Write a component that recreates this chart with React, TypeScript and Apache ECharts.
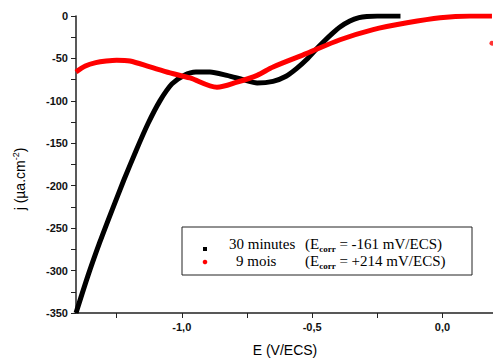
import React, { useEffect, useRef } from "react";
import * as echarts from "echarts";

// 30 minutes curve: [E (V/ECS), j (µA.cm-2)]
const E_30min = [-1.406, -1.36, -1.314, -1.268, -1.222, -1.176, -1.13, -1.084, -1.038, -0.992, -0.946, -0.892, -0.827, -0.765, -0.711, -0.65, -0.6, -0.56, -0.52, -0.49, -0.458, -0.42, -0.393, -0.355, -0.32, -0.29, -0.25, -0.161];
const j_30min = [-350, -306, -266, -229, -193, -159, -127, -100, -80, -70, -66, -66, -70, -75, -79, -77, -71, -62, -51, -41, -31, -20, -13, -6, -2, -0.5, 0, 0];

// 9 mois curve
const E_9mois = [-1.406, -1.37, -1.33, -1.29, -1.25, -1.199, -1.122, -1.045, -0.969, -0.865, -0.788, -0.711, -0.65, -0.52, -0.393, -0.266, -0.136, -0.009, 0.106, 0.19];
const j_9mois = [-66, -59, -55, -53, -52, -53, -60, -67, -73, -84, -78, -70, -60, -44, -28, -16, -8, -2, 0, 0];
const E_9mois_extra = [0.19];
const j_9mois_extra = [-32];

const xLabelValues = [-1.0, -0.5, 0.0];
const xTickValues = [-1.25, -1.0, -0.75, -0.5, -0.25, 0.0];
const yLabelValues = [-350, -300, -250, -200, -150, -100, -50, 0];
const yTickValues = [-350, -325, -300, -275, -250, -225, -200, -175, -150, -125, -100, -75, -50, -25, 0];

const legendRows = [
  { name: "30 minutes", ecorr: "-161", color: "#000000", symbol: "square" },
  { name: "9 mois", ecorr: "+214", color: "#ff0000", symbol: "circle" },
];

export default function App() {
  const ref = useRef<HTMLDivElement>(null);
  useEffect(() => {
    if (!ref.current) return;
    const chart = echarts.init(ref.current, null, { renderer: "svg" });
    const axisFont = "'Liberation Sans', Arial, sans-serif";
    const serif = "'Liberation Serif', 'Times New Roman', serif";
    const zip = (a: number[], b: number[]) => a.map((v, i) => [v, b[i]]);

    const rowYs = [244, 261];
    const markerYs = [249, 262];
    const nameXs = [229, 236];
    const eXs = [305, 305];
    const legendGraphics: any[] = [
      {
        type: "rect",
        shape: { x: 182, y: 227, width: 290, height: 48 },
        style: { fill: "#fff", stroke: "#222", lineWidth: 1 },
        z: 10,
      },
    ];
    legendRows.forEach((r, i) => {
      if (r.symbol === "square") {
        legendGraphics.push({
          type: "rect",
          shape: { x: 203, y: markerYs[i] - 2, width: 4, height: 4 },
          style: { fill: r.color },
          z: 11,
        });
      } else {
        legendGraphics.push({
          type: "circle",
          shape: { cx: 205, cy: markerYs[i], r: 2.3 },
          style: { fill: r.color },
          z: 11,
        });
      }
      legendGraphics.push({
        type: "text",
        x: nameXs[i],
        y: rowYs[i],
        z: 11,
        style: {
          text: r.name,
          font: `15px ${serif}`,
          fill: "#000",
          verticalAlign: "middle",
          align: "left",
        },
      });
      legendGraphics.push({
        type: "text",
        x: eXs[i],
        y: rowYs[i],
        z: 11,
        style: {
          text: `(E{sub|corr} = ${r.ecorr} mV/ECS)`,
          fontFamily: serif,
          fontSize: 15,
          fill: "#000",
          verticalAlign: "middle",
          align: "left",
          lineHeight: 18,
          rich: {
            sub: {
              fontFamily: serif,
              fontSize: 9,
              fontWeight: "bold",
              lineHeight: 9,
              verticalAlign: "bottom",
              fill: "#000",
            },
          },
        },
      });
    });

    chart.setOption({
      animation: false,
      grid: { left: 76, right: 0, top: 16, bottom: 47, containLabel: false },
      xAxis: {
        type: "value",
        min: -1.406,
        max: 0.194,
        splitLine: { show: false },
        axisLine: { show: true, onZero: false, lineStyle: { color: "#222", width: 1.5 } },
        axisTick: { show: true, customValues: xTickValues, length: 5, lineStyle: { color: "#222", width: 1 } },
        axisLabel: {
          customValues: xLabelValues,
          formatter: (v: number) => v.toFixed(1).replace(".", ","),
          fontFamily: axisFont,
          fontWeight: "bold",
          fontSize: 11,
          color: "#111",
          margin: 8,
        },
      },
      yAxis: {
        type: "value",
        min: -350,
        max: 0,
        splitLine: { show: false },
        axisLine: { show: true, onZero: false, lineStyle: { color: "#222", width: 1.5 } },
        axisTick: { show: true, customValues: yTickValues, length: 5, lineStyle: { color: "#222", width: 1 } },
        axisLabel: {
          customValues: yLabelValues,
          fontFamily: axisFont,
          fontWeight: "bold",
          fontSize: 11,
          color: "#111",
          margin: 8,
        },
      },
      series: [
        {
          type: "line",
          data: zip(E_30min, j_30min),
          smooth: 0.25,
          showSymbol: false,
          lineStyle: { color: "#000", width: 5 },
          z: 2,
        },
        {
          type: "line",
          data: zip(E_9mois, j_9mois),
          smooth: 0.3,
          showSymbol: false,
          lineStyle: { color: "#ff0000", width: 5 },
          z: 3,
        },
        {
          type: "scatter",
          data: zip(E_9mois_extra, j_9mois_extra),
          symbol: "circle",
          symbolSize: 5,
          itemStyle: { color: "#ff0000" },
          z: 3,
        },
      ],
      graphic: [
        {
          type: "text",
          x: 285,
          y: 350,
          style: {
            text: "E (V/ECS)",
            font: `14px ${axisFont}`,
            fill: "#000",
            align: "center",
            verticalAlign: "middle",
          },
        },
        {
          type: "text",
          x: 20,
          y: 179,
          rotation: Math.PI / 2,
          style: {
            text: "j (µa.cm{sup|-2})",
            fontFamily: axisFont,
            fontSize: 14,
            fill: "#000",
            align: "center",
            verticalAlign: "middle",
            lineHeight: 18,
            rich: {
              sup: { fontFamily: axisFont, fontSize: 9, lineHeight: 9, verticalAlign: "top", fill: "#000" },
            },
          },
        },
        ...legendGraphics,
      ],
    });
    return () => chart.dispose();
  }, []);
  return <div ref={ref} style={{ position: "absolute", left: 0, top: 0, width: 493, height: 360 }} />;
}
